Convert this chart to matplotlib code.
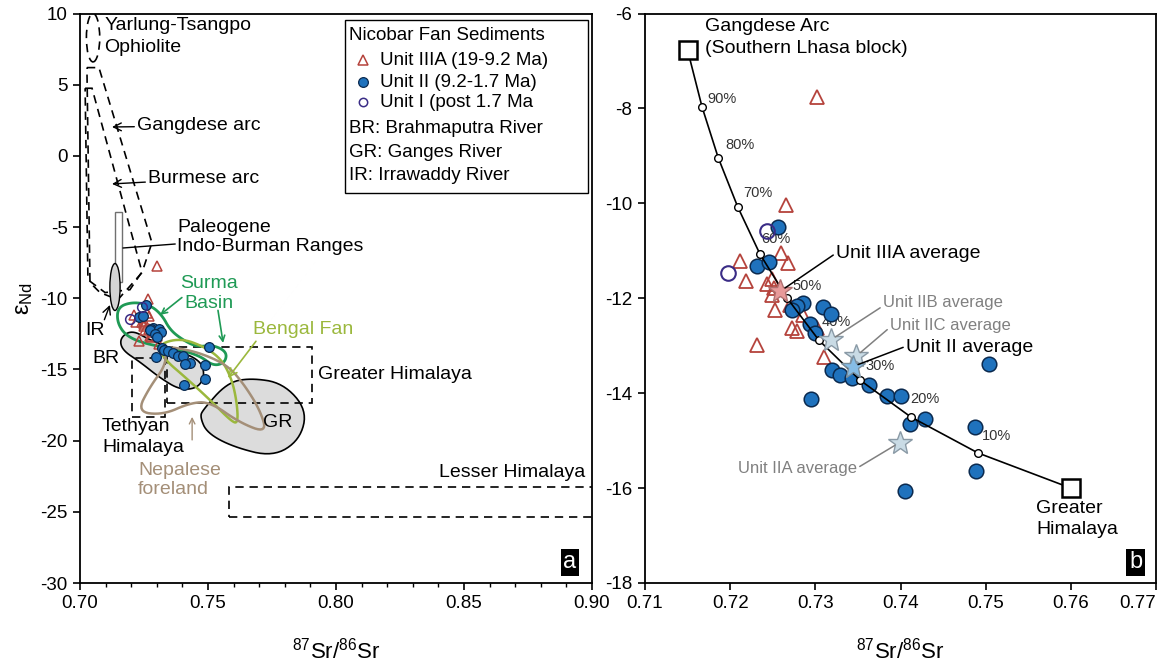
import numpy as np
import matplotlib
matplotlib.use('Agg')
import matplotlib.pyplot as plt
from matplotlib.patches import Polygon, Ellipse, Rectangle
from matplotlib.ticker import MultipleLocator, FormatStrFormatter

plt.rcParams['font.family'] = ['Liberation Sans', 'DejaVu Sans']
plt.rcParams['axes.unicode_minus'] = False
plt.rcParams['mathtext.fontset'] = 'custom'
plt.rcParams['mathtext.rm'] = 'Liberation Sans'
plt.rcParams['mathtext.it'] = 'Liberation Sans:italic'

# ---------------- data (87Sr/86Sr, eNd) ----------------
unit3a_sr = [0.7302, 0.7266, 0.7260, 0.7212, 0.7268, 0.7219, 0.7243, 0.7249, 0.7251,
             0.7249, 0.7253, 0.7270, 0.7286, 0.7273, 0.7278, 0.7302, 0.7232, 0.7310]
unit3a_nd = [-7.76, -10.04, -11.05, -11.21, -11.26, -11.64, -11.69, -11.60, -11.79,
             -11.93, -12.25, -12.14, -12.35, -12.63, -12.70, -12.63, -12.98, -13.24]
unit2_sr = [0.7256, 0.7232, 0.7246, 0.7286, 0.7279, 0.7273, 0.7309, 0.7318, 0.7294,
            0.7300, 0.7319, 0.7329, 0.7343, 0.7363, 0.7384, 0.7401, 0.7429, 0.7411,
            0.7295, 0.7504, 0.7487, 0.7489, 0.7405]
unit2_nd = [-10.49, -11.32, -11.23, -12.09, -12.16, -12.25, -12.19, -12.34, -12.54,
            -12.73, -13.51, -13.62, -13.69, -13.83, -14.07, -14.07, -14.55, -14.65,
            -14.13, -13.39, -14.71, -15.65, -16.06]
unit1_sr = [0.7243, 0.7197]
unit1_nd = [-10.58, -11.47]

avg_labels = ['Unit IIIA average', 'Unit IIB average', 'Unit IIC average',
              'Unit II average', 'Unit IIA average']
avg_sr = [0.7259, 0.7318, 0.7348, 0.7344, 0.7399]
avg_nd = [-11.85, -12.88, -13.22, -13.44, -15.04]

end_labels = ['Gangdese Arc', 'Greater Himalaya']
end_sr = [0.7150, 0.7600]
end_nd = [-6.77, -16.00]
mix_labels = ['90%', '80%', '70%', '60%', '50%', '40%', '30%', '20%', '10%']
mix_sr = [0.7167, 0.7186, 0.7209, 0.7235, 0.7267, 0.7304, 0.7352, 0.7412, 0.7491]
mix_nd = [-7.97, -9.04, -10.08, -11.07, -12.00, -12.88, -13.72, -14.50, -15.26]

xticks_a = [0.70, 0.75, 0.80, 0.85, 0.90]
xticks_b = [0.71, 0.72, 0.73, 0.74, 0.75, 0.76, 0.77]

# ---------------- reference fields (panel a) ----------------
gangdese_sr = [0.7027, 0.7074, 0.7281, 0.7242, 0.7148, 0.7078, 0.7039]
gangdese_nd = [6.2, 6.2, -6.1, -8.2, -10.1, -9.6, -8.9]
burmese_sr = [0.7020, 0.7047, 0.7242, 0.7195, 0.7098, 0.7031]
burmese_nd = [4.75, 4.75, -8.15, -9.4, -9.6, -8.7]
surma_sr = [0.7148, 0.7207, 0.7273, 0.7320, 0.7352, 0.7402, 0.7457, 0.7520, 0.7574,
            0.7566, 0.7520, 0.7469, 0.7379, 0.7273, 0.7184, 0.7145]
surma_nd = [-10.61, -10.26, -10.47, -11.17, -12.23, -12.93, -13.42, -13.28, -13.77,
            -14.54, -14.75, -14.05, -13.56, -13.28, -12.72, -11.73]
bengal_sr = [0.7301, 0.7391, 0.7488, 0.7555, 0.7594, 0.7613, 0.7617, 0.7594, 0.7508,
             0.7410, 0.7332]
bengal_nd = [-13.28, -12.79, -13.42, -14.33, -15.74, -17.35, -18.75, -18.69, -17.14,
             -15.53, -14.33]
nepal_sr = [0.7332, 0.7336, 0.7273, 0.7223, 0.7324, 0.7430, 0.7508, 0.7625, 0.7730,
            0.7703, 0.7637, 0.7574, 0.7469, 0.7379]
nepal_nd = [-13.42, -14.68, -16.22, -17.98, -18.19, -17.35, -17.28, -18.75, -19.46,
            -17.84, -15.95, -14.68, -13.84, -13.49]
br_sr = [0.7156, 0.7203, 0.7273, 0.7371, 0.7469, 0.7488, 0.7461, 0.7391, 0.7313,
         0.7234, 0.7164]
br_nd = [-12.79, -12.23, -12.93, -13.63, -14.33, -15.39, -16.30, -16.44, -15.60,
         -14.47, -13.63]
gr_sr = [0.7480, 0.7574, 0.7664, 0.7793, 0.7887, 0.7859, 0.7754, 0.7598, 0.7496, 0.7469]
gr_nd = [-17.84, -15.95, -15.60, -15.95, -17.84, -19.95, -21.14, -20.44, -19.46, -18.34]
greater_him_sr = [0.7340, 0.7906]
greater_him_nd = [-17.35, -13.42]
tethyan_sr = [0.7203, 0.7332]
tethyan_nd = [-18.33, -14.19]
lesser_sr = [0.7582, 0.9100]
lesser_nd = [-25.36, -23.25]
indoburman_sr = [0.7137, 0.7164]
indoburman_nd = [-8.86, -3.94]
ir_center = (0.71367, -9.21)
ir_size = (0.0040, 3.3)
ophiolite_center = (0.7051, 8.3)
ophiolite_size = (0.0052, 3.4)

RED = '#b5433c'
BLUE = '#1f72bd'
BLUE_EDGE = '#0b2a4f'
PURPLE = '#3a2c86'
GREEN = '#1f9a55'
YGREEN = '#9bb83d'
TAN = '#a48f78'
GRAY_FILL = '#dcdcdc'


def smooth(xs, ys, n=3):
    p = np.column_stack([xs, ys]).astype(float)
    for _ in range(n):
        q = np.roll(p, -1, axis=0)
        a = 0.75 * p + 0.25 * q
        b = 0.25 * p + 0.75 * q
        p = np.empty((2 * len(a), 2))
        p[0::2] = a
        p[1::2] = b
    return p


fig = plt.figure(figsize=(11.67, 6.64), dpi=100)
H = 664.0
W = 1167.0
ax_a = fig.add_axes([80 / W, 1 - 583 / H, 512 / W, 569.5 / H])
ax_b = fig.add_axes([645 / W, 1 - 583 / H, 511 / W, 569.5 / H])

FS = 13.5
for ax in (ax_a, ax_b):
    for s in ax.spines.values():
        s.set_linewidth(1.3)
    ax.tick_params(direction='out', length=5, width=1.2, labelsize=FS, pad=4)
    ax.tick_params(which='minor', direction='out', length=3, width=1.0)
    ax.set_xlabel('$^{87}$Sr/$^{86}$Sr', fontsize=16, labelpad=18)

# ---------------- panel a ----------------
ax = ax_a
ax.set_xlim(0.70, 0.90)
ax.set_ylim(-30, 10)
ax.set_xticks(xticks_a)
ax.set_xticklabels(['%.2f' % v for v in xticks_a])
ax.xaxis.set_minor_locator(MultipleLocator(0.01))
ax.yaxis.set_major_locator(MultipleLocator(5))
ax.set_ylabel('ε$_{\\rm Nd}$', fontsize=17, labelpad=4)

dash = dict(fill=False, ec='k', lw=1.2, ls=(0, (5, 3.5)))
ax.add_patch(Polygon(smooth(gr_sr, gr_nd, 3), closed=True, fc=GRAY_FILL, ec='k', lw=1.2, zorder=1))
ax.add_patch(Polygon(smooth(br_sr, br_nd, 3), closed=True, fc=GRAY_FILL, ec='k', lw=1.2, zorder=1))
ax.add_patch(Polygon(np.column_stack([gangdese_sr, gangdese_nd]), closed=True, zorder=2, **dash))
ax.add_patch(Polygon(np.column_stack([burmese_sr, burmese_nd]), closed=True, zorder=2, **dash))
ax.add_patch(Ellipse(ophiolite_center, ophiolite_size[0], ophiolite_size[1], zorder=2, **dash))
ax.add_patch(Rectangle((greater_him_sr[0], greater_him_nd[0]), greater_him_sr[1] - greater_him_sr[0],
                       greater_him_nd[1] - greater_him_nd[0], zorder=2, **dash))
ax.add_patch(Rectangle((tethyan_sr[0], tethyan_nd[0]), tethyan_sr[1] - tethyan_sr[0],
                       tethyan_nd[1] - tethyan_nd[0], zorder=2, **dash))
ax.add_patch(Rectangle((lesser_sr[0], lesser_nd[0]), lesser_sr[1] - lesser_sr[0],
                       lesser_nd[1] - lesser_nd[0], zorder=2, **dash))
ax.add_patch(Rectangle((indoburman_sr[0], indoburman_nd[0]), indoburman_sr[1] - indoburman_sr[0],
                       indoburman_nd[1] - indoburman_nd[0], fill=False, ec='#707070', lw=1.0, zorder=2))
ax.add_patch(Ellipse(ir_center, ir_size[0], ir_size[1], fc='#d4d4d4', ec='k', lw=1.0, zorder=2))
ax.add_patch(Polygon(smooth(surma_sr, surma_nd, 3), closed=True, fill=False, ec=GREEN, lw=2.0, zorder=3))
ax.add_patch(Polygon(smooth(bengal_sr, bengal_nd, 3), closed=True, fill=False, ec=YGREEN, lw=1.8, zorder=3))
ax.add_patch(Polygon(smooth(nepal_sr, nepal_nd, 3), closed=True, fill=False, ec=TAN, lw=1.8, zorder=3))

ax.plot(unit3a_sr, unit3a_nd, ls='none', marker='^', ms=7, mfc='none', mec=RED, mew=1.1, zorder=5)
ax.plot(unit2_sr, unit2_nd, ls='none', marker='o', ms=7, mfc=BLUE, mec=BLUE_EDGE, mew=0.9, zorder=6)
ax.plot(unit1_sr, unit1_nd, ls='none', marker='o', ms=7, mfc='none', mec=PURPLE, mew=1.1, zorder=6)

TFS = 14
ax.text(0.7094, 9.19, 'Yarlung-Tsangpo', fontsize=TFS, va='center', ha='left')
ax.text(0.7094, 7.58, 'Ophiolite', fontsize=TFS, va='center', ha='left')
arw = dict(arrowstyle='->', lw=1.0, color='k', shrinkA=0, shrinkB=0)
ax.annotate('Gangdese arc', xy=(0.7125, 2.03), xytext=(0.7223, 2.1), fontsize=TFS,
            va='center', ha='left', arrowprops=arw)
ax.annotate('Burmese arc', xy=(0.7125, -1.97), xytext=(0.7266, -1.62), fontsize=TFS,
            va='center', ha='left', arrowprops=arw)
ax.text(0.7379, -5.06, 'Paleogene', fontsize=TFS, va='center', ha='left')
ax.text(0.7379, -6.40, 'Indo-Burman Ranges', fontsize=TFS, va='center', ha='left')
ax.annotate('', xy=(0.7168, -6.47), xytext=(0.7372, -6.19),
            arrowprops=dict(arrowstyle='-', lw=1.0, color='k', shrinkA=0, shrinkB=0))
ax.annotate('IR', xy=(0.7117, -10.47), xytext=(0.7020, -12.30), fontsize=TFS,
            va='center', ha='left', arrowprops=dict(arw, relpos=(0.9, 0.9)))
ax.text(0.7047, -14.25, 'BR', fontsize=TFS, va='center', ha='left')
ax.text(0.7504, -8.93, 'Surma', fontsize=TFS, color=GREEN, va='center', ha='center')
ax.text(0.7504, -10.40, 'Basin', fontsize=TFS, color=GREEN, va='center', ha='center')
ax.annotate('', xy=(0.7313, -11.17), xytext=(0.7398, -9.95),
            arrowprops=dict(arrowstyle='->', lw=1.2, color=GREEN, shrinkA=0, shrinkB=0))
ax.annotate('', xy=(0.7559, -13.14), xytext=(0.7539, -10.85),
            arrowprops=dict(arrowstyle='->', lw=1.2, color=GREEN, shrinkA=0, shrinkB=0))
ax.annotate('Bengal Fan', xy=(0.7578, -15.6), xytext=(0.7676, -12.23), fontsize=TFS,
            color=YGREEN, va='center', ha='left',
            arrowprops=dict(arrowstyle='->', lw=1.2, color=YGREEN, shrinkA=0, shrinkB=0,
                            relpos=(0.05, 0.0)))
ax.text(0.7930, -15.39, 'Greater Himalaya', fontsize=TFS, va='center', ha='left')
ax.text(0.7086, -19.04, 'Tethyan', fontsize=TFS, va='center', ha='left')
ax.text(0.7086, -20.51, 'Himalaya', fontsize=TFS, va='center', ha='left')
ax.text(0.7227, -22.07, 'Nepalese', fontsize=TFS, color=TAN, va='center', ha='left')
ax.text(0.7227, -23.40, 'foreland', fontsize=TFS, color=TAN, va='center', ha='left')
ax.annotate('', xy=(0.7438, -18.33), xytext=(0.7438, -19.95),
            arrowprops=dict(arrowstyle='->', lw=1.0, color=TAN, shrinkA=0, shrinkB=0))
ax.text(0.8973, -22.27, 'Lesser Himalaya', fontsize=TFS, va='center', ha='right')
ax.text(0.957, 0.036, 'a', transform=ax.transAxes, fontsize=17, color='white', ha='center',
        va='center', bbox=dict(boxstyle='square,pad=0.12', fc='black', ec='none'))

# legend box (panel a)
ax.add_patch(Rectangle((0.5176, 0.685), 0.4746, 0.3036, transform=ax.transAxes, fill=False,
                       ec='k', lw=1.0, zorder=7))
LFS = 13.5
ax.text(0.5254, 0.9622, 'Nicobar Fan Sediments', transform=ax.transAxes, fontsize=LFS,
        va='center', ha='left')
leg_y = [0.9183, 0.8797, 0.8446]
leg_txt = ['Unit IIIA (19-9.2 Ma)', 'Unit II (9.2-1.7 Ma)', 'Unit I (post 1.7 Ma']
ax.plot([0.5527], [leg_y[0]], transform=ax.transAxes, marker='^', ms=7, mfc='none', mec=RED,
        mew=1.1, ls='none', clip_on=False)
ax.plot([0.5527], [leg_y[1]], transform=ax.transAxes, marker='o', ms=7, mfc=BLUE,
        mec=BLUE_EDGE, mew=0.9, ls='none', clip_on=False)
ax.plot([0.5527], [leg_y[2]], transform=ax.transAxes, marker='o', ms=6, mfc='none',
        mec=PURPLE, mew=1.1, ls='none', clip_on=False)
for yy, tt in zip(leg_y, leg_txt):
    ax.text(0.5859, yy, tt, transform=ax.transAxes, fontsize=LFS, va='center', ha='left')
for yy, tt in zip([0.7989, 0.7568, 0.7147],
                  ['BR: Brahmaputra River', 'GR: Ganges River', 'IR: Irrawaddy River']):
    ax.text(0.5254, yy, tt, transform=ax.transAxes, fontsize=LFS, va='center', ha='left')
ax.text(0.7773, -18.7, 'GR', fontsize=TFS, va='center', ha='center')

# ---------------- panel b ----------------
ax = ax_b
ax.set_xlim(0.71, 0.77)
ax.set_ylim(-18, -6)
ax.set_xticks(xticks_b)
tl = ax.set_xticklabels(['%.2f' % v for v in xticks_b])
tl[-1].set_horizontalalignment('right')
ax.yaxis.set_major_locator(MultipleLocator(2))

ax.plot(unit3a_sr, unit3a_nd, ls='none', marker='^', ms=10, mfc='none', mec=RED, mew=1.3, zorder=3)
ax.plot(unit2_sr, unit2_nd, ls='none', marker='o', ms=10.5, mfc=BLUE, mec=BLUE_EDGE, mew=1.1, zorder=4)
ax.plot(unit1_sr, unit1_nd, ls='none', marker='o', ms=10.5, mfc='none', mec=PURPLE, mew=1.5, zorder=4)

line_sr = [end_sr[0]] + mix_sr + [end_sr[1]]
line_nd = [end_nd[0]] + mix_nd + [end_nd[1]]
ax.plot(line_sr, line_nd, color='k', lw=1.2, zorder=5)
ax.plot(mix_sr, mix_nd, ls='none', marker='o', ms=5.5, mfc='white', mec='k', mew=1.0, zorder=6)
ax.plot(end_sr, end_nd, ls='none', marker='s', ms=13, mfc='white', mec='k', mew=1.8, zorder=6)

mix_off = [(4, 1), (5, 4), (4, 5), (1, 6), (4, 4), (2, 8), (4, 5), (0, 8), (3, 7)]
for x, y, t, o in zip(mix_sr, mix_nd, mix_labels, mix_off):
    ax.annotate(t, (x, y), xytext=o, textcoords='offset points', fontsize=10.5,
                color='#333333', ha='left', va='bottom')

star_fc = ['#e89a9a', '#c9dbe5', '#c9dbe5', '#86bde6', '#c9dbe5']
star_ec = ['#b07070', '#8a9aa6', '#8a9aa6', '#7a8f9e', '#8a9aa6']
for x, y, fc, ec in zip(avg_sr, avg_nd, star_fc, star_ec):
    ax.plot([x], [y], marker='*', ms=18, mfc=fc, mec=ec, mew=1.0, ls='none', zorder=7)

avg_txt_pos = [(0.73243, -11.05), (0.73794, -12.10), (0.73877, -12.58), (0.74064, -13.03),
               (0.73489, -15.58)]
avg_col = ['k', '#808080', '#808080', 'k', '#808080']
avg_fs = [14, 12, 12, 14, 12]
avg_ha = ['left', 'left', 'left', 'left', 'right']
avg_rel = [(0, 0.5), (0, 0.3), (0, 0.4), (0, 0.55), (1, 0.5)]
for lab, x, y, pos, c, fs, ha, rp in zip(avg_labels, avg_sr, avg_nd, avg_txt_pos, avg_col,
                                         avg_fs, avg_ha, avg_rel):
    ax.annotate(lab, (x, y), xytext=pos, fontsize=fs, color=c, ha=ha, va='center',
                arrowprops=dict(arrowstyle='-', color=c, lw=1.1, shrinkA=0, shrinkB=4,
                                relpos=rp), zorder=8)

ax.text(0.71704, -6.28, 'Gangdese Arc', fontsize=TFS, va='center', ha='left')
ax.text(0.71704, -6.73, '(Southern Lhasa block)', fontsize=TFS, va='center', ha='left')
ax.text(0.75591, -16.42, 'Greater', fontsize=TFS, va='center', ha='left')
ax.text(0.75591, -16.88, 'Himalaya', fontsize=TFS, va='center', ha='left')
ax.text(0.960, 0.036, 'b', transform=ax.transAxes, fontsize=17, color='white', ha='center',
        va='center', bbox=dict(boxstyle='square,pad=0.12', fc='black', ec='none'))

fig.savefig('out.png', dpi=100)
